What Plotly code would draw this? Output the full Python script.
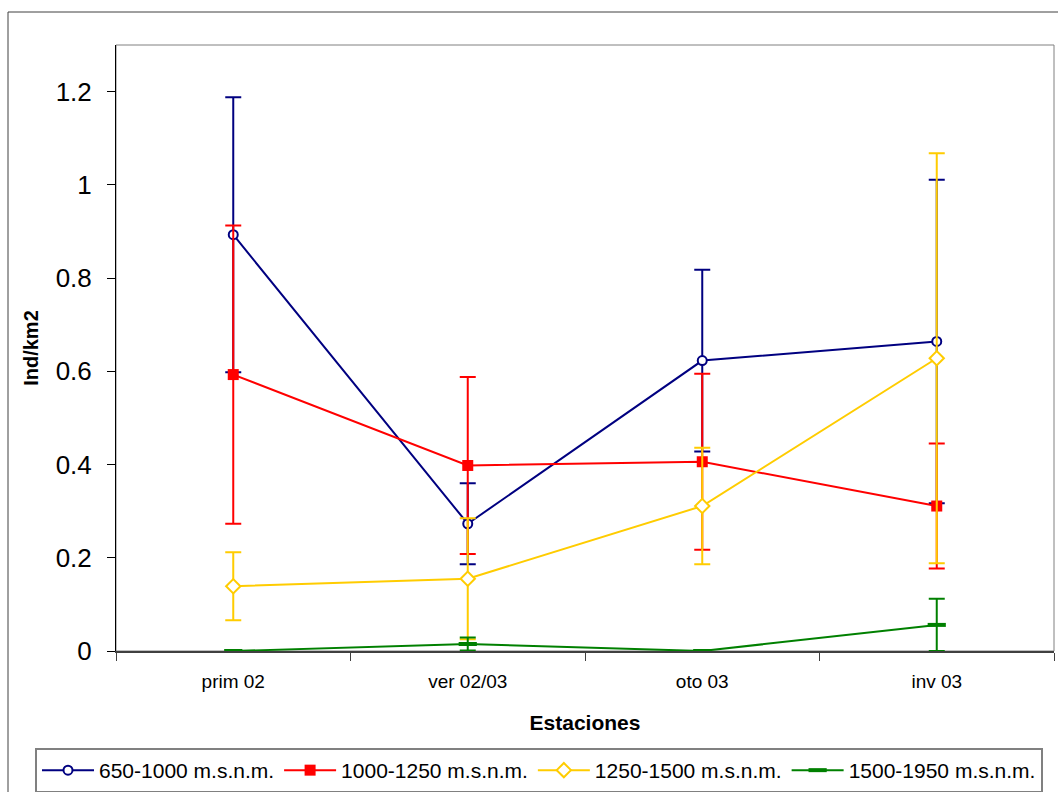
import plotly.graph_objects as go

categories = ["prim 02", "ver 02/03", "oto 03", "inv 03"]

s1_name = "650-1000 m.s.n.m."
s1_vals = [0.893, 0.273, 0.623, 0.664]
s1_err = [0.295, 0.087, 0.195, 0.347]

s2_name = "1000-1250 m.s.n.m."
s2_vals = [0.593, 0.398, 0.406, 0.311]
s2_err = [0.320, 0.190, 0.189, 0.134]

s3_name = "1250-1500 m.s.n.m."
s3_vals = [0.139, 0.155, 0.311, 0.628]
s3_err = [0.073, 0.130, 0.125, 0.440]

s4_name = "1500-1950 m.s.n.m."
s4_vals = [0.0, 0.015, 0.0, 0.056]
s4_err = [0.0, 0.014, 0.0, 0.056]

W, H = 1058, 792
L, R, T, B = 116, 4, 45, 141
pw, ph = W - L - R, H - T - B

def px_x(x):
    return (x - L) / pw

def px_y(y):
    return (H - B - y) / ph

font_family = "Liberation Sans, Arial, sans-serif"

fig = go.Figure()

def add_series(name, vals, err, color, symbol, size, mline, mfill):
    fig.add_trace(go.Scatter(
        x=categories, y=vals, name=name, mode="lines+markers",
        line=dict(color=color, width=2),
        marker=dict(symbol=symbol, size=size, color=mfill,
                    line=dict(color=color, width=mline)),
        error_y=dict(type="data", array=err, visible=True,
                     color=color, thickness=2, width=8),
    ))

add_series(s1_name, s1_vals, s1_err, "#000080", "circle", 9, 2, "white")
add_series(s2_name, s2_vals, s2_err, "#FF0000", "square", 11, 0, "#FF0000")
add_series(s3_name, s3_vals, s3_err, "#FFCC00", "diamond", 11, 2, "white")
add_series(s4_name, s4_vals, s4_err, "#008000", "line-ew", 13, 4, "#008000")

fig.update_layout(
    width=W, height=H,
    margin=dict(l=L, r=R, t=T, b=B, pad=0, autoexpand=False),
    paper_bgcolor="white", plot_bgcolor="white",
    font=dict(family=font_family, color="black"),
    showlegend=True,
    legend=dict(
        orientation="h", x=px_x(35), y=px_y(748),
        xanchor="left", yanchor="top",
        bordercolor="#808080", borderwidth=2, bgcolor="white",
        font=dict(size=21, family=font_family),
        itemwidth=52, tracegroupgap=0,
    ),
    xaxis=dict(
        type="category", range=[-0.5, 3.5],
        tickson="boundaries", ticks="outside", ticklen=8,
        tickcolor="#404040", tickwidth=1,
        showline=True, linecolor="#404040", linewidth=2,
        showgrid=False, zeroline=False,
        tickfont=dict(size=19),
        ticklabelstandoff=12,
        title=dict(text="<b>Estaciones</b>", font=dict(size=21), standoff=25),
    ),
    yaxis=dict(
        range=[0, 1.3], dtick=0.2, tick0=0,
        ticks="outside", ticklen=8, tickcolor="black", tickwidth=1,
        showline=True, linecolor="black", linewidth=1,
        showgrid=False, zeroline=False,
        tickfont=dict(size=26),
        ticklabelstandoff=10,
        title=dict(text="<b>Ind/km2</b>", font=dict(size=20), standoff=11),
    ),
    shapes=[
        dict(type="rect", xref="paper", yref="paper", x0=0, x1=1, y0=0, y1=1,
             line=dict(color="#808080", width=1), layer="below"),
        dict(type="rect", xref="paper", yref="paper",
             x0=px_x(8), x1=px_x(1070), y0=px_y(812), y1=px_y(12),
             line=dict(color="#404040", width=1), layer="below"),
    ],
)

fig.write_html(
    "out.html",
    config={"displayModeBar": False},
    post_script="document.body.style.margin='0';document.body.style.padding='0';",
)
